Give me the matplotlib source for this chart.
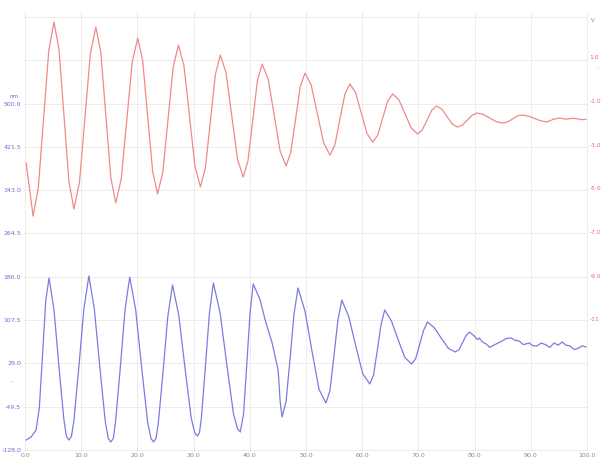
import matplotlib.pyplot as plt

# time axis (s)
x_ticks = [0, 10, 20, 30, 40, 50, 60, 70, 80, 90, 100]
x_labels = ["0.0", "10.0", "20.0", "30.0", "40.0", "50.0", "60.0", "70.0", "80.0", "90.0", "100.0"]

# left axis (displacement, nm) - blue
left_ticks = [-128.0, -49.5, 29.0, 107.5, 186.0, 264.5, 343.0, 421.5, 500.0, 578.5, 657.0]
left_labels = ["-128.0", "-49.5", "29.0", "107.5", "186.0", "264.5", "343.0", "421.5", "500.0", "", ""]

# right axis (voltage, V) - red
right_ticks = [1.0, -1.0, -3.0, -5.0, -7.0, -9.0, -11.0]
right_labels = ["1.0", "-1.0", "-3.0", "-5.0", "-7.0", "-9.0", "-11"]

# red trace (V)
red_t = [0.18, 1.42, 2.35, 3.28, 4.21, 5.14, 6.03, 6.92, 7.80, 8.69, 9.67, 10.64, 11.62,
         12.59, 13.48, 14.36, 15.25, 16.13, 17.11, 18.09, 19.06, 20.04, 20.93, 21.81, 22.70,
         23.58, 24.51, 25.44, 26.37, 27.30, 28.28, 29.26, 30.23, 31.21, 32.10, 32.98, 33.87,
         34.75, 35.77, 36.79, 37.81, 38.83, 39.67, 40.52, 41.36, 42.20, 43.26, 44.33, 45.39,
         46.45, 47.29, 48.14, 48.98, 49.82, 50.93, 52.04, 53.15, 54.26, 55.15, 56.03, 56.92,
         57.80, 58.82, 59.84, 60.86, 61.88, 62.77, 63.66, 64.54, 65.43, 66.54, 67.65, 68.75,
         69.86, 70.70, 71.55, 72.39, 73.23, 74.16, 75.09, 76.02, 76.95, 77.84, 78.73, 79.61,
         80.50, 81.61, 82.72, 83.82, 84.93, 85.82, 86.71, 87.59, 88.48, 89.59, 90.70, 91.80,
         92.91, 94.00, 95.04, 96.30, 97.70, 99.00, 99.82]
red_v = [-3.85, -6.27, -4.97, -1.83, 1.30, 2.60, 1.35, -1.68, -4.70, -5.95, -4.74, -1.79, 1.16,
         2.37, 1.20, -1.65, -4.50, -5.67, -4.57, -1.90, 0.77, 1.87, 0.83, -1.70, -4.22,
         -5.26, -4.27, -1.85, 0.56, 1.55, 0.60, -1.70, -3.99, -4.94, -4.06, -1.92, 0.21,
         1.09, 0.28, -1.70, -3.68, -4.49, -3.74, -1.90, -0.07, 0.68, 0.00, -1.65, -3.30,
         -3.98, -3.36, -1.85, -0.35, 0.27, -0.28, -1.61, -2.93, -3.48, -3.01, -1.85, -0.70,
         -0.23, -0.62, -1.56, -2.50, -2.89, -2.57, -1.79, -1.01, -0.69, -0.96, -1.61, -2.25,
         -2.52, -2.33, -1.88, -1.43, -1.24, -1.38, -1.72, -2.06, -2.20, -2.11, -1.88, -1.65,
         -1.56, -1.63, -1.79, -1.95, -2.02, -1.97, -1.84, -1.70, -1.65, -1.70, -1.81, -1.92,
         -1.97, -1.85, -1.79, -1.84, -1.80, -1.86, -1.85]

# blue trace (nm)
blue_t = [0.18, 1.06, 1.95, 2.53, 3.11, 3.68, 4.26,
          5.15, 6.03, 6.92, 7.35, 7.80, 8.25, 8.69, 9.58, 10.46, 11.35,
          12.33, 13.30, 14.28, 14.80, 15.25, 15.70, 16.09, 16.94, 17.78, 18.62,
          19.68, 20.75, 21.81, 22.40, 22.87, 23.30, 23.71, 24.56, 25.40, 26.24,
          27.35, 28.46, 29.56, 30.20, 30.67, 31.05, 31.38, 32.09, 32.80, 33.51,
          34.71, 35.91, 37.10, 37.80, 38.30, 38.88, 39.45, 40.03, 40.60,
          41.84, 42.73, 43.97, 45.04, 45.40, 45.74, 46.45, 47.16, 47.87, 48.58,
          49.82, 51.07, 52.31, 53.55, 54.26, 54.96, 55.67, 56.38,
          57.62, 58.87, 60.11, 61.35, 62.02, 62.68, 63.35, 64.01,
          65.20, 66.40, 67.60, 68.79, 69.50, 70.21, 70.92, 71.63,
          72.87, 74.12, 75.36, 76.60, 77.22, 77.84, 78.46, 79.08,
          79.96, 80.50, 80.85, 81.40, 82.09, 82.70, 83.51, 84.20, 84.93, 85.60,
          86.52, 87.20, 87.94, 88.70, 89.72, 90.40, 91.13, 91.90, 92.73, 93.40,
          94.15, 94.90, 95.57, 96.30, 96.99, 97.80, 98.58, 99.20, 99.82]
blue_v = [-109.9, -104.4, -91.7, -51.5, 46.1, 143.6, 183.8,
          125.1, 22.3, -74.7, -103.0, -109.9, -103.0, -74.2, 23.9, 128.0, 187.5,
          127.3, 21.9, -77.4, -107.0, -113.5, -107.0, -77.6, 21.1, 125.8, 185.6,
          125.8, 21.1, -77.6, -107.0, -113.5, -107.0, -79.3, 14.6, 114.2, 171.1,
          116.4, 20.6, -69.8, -97.0, -102.6, -96.0, -69.3, 22.2, 119.3, 174.8,
          120.8, 26.2, -63.0, -89.0, -95.4, -63.2, 25.4, 119.3, 173.0,
          144.0, 107.7, 66.0, 17.0, -40.0, -68.2, -40.1, 37.1, 118.9, 165.7,
          124.0, 51.0, -17.8, -42.8, -20.4, 41.2, 106.6, 143.9,
          113.5, 60.2, 10.0, -8.3, 7.8, 52.0, 99.0, 125.8,
          106.2, 72.0, 39.6, 27.9, 37.0, 62.2, 88.9, 104.1,
          93.2, 74.2, 56.2, 49.7, 54.0, 66.0, 78.9, 85.9,
          78.7, 72.0, 75.1, 68.0, 64.2, 58.0, 62.4, 66.0, 69.6, 74.0,
          75.1, 71.0, 69.6, 63.0, 66.0, 61.0, 60.6, 66.0, 62.4, 58.0,
          66.0, 62.0, 67.8, 62.0, 60.6, 54.0, 56.9, 61.0, 58.7]

fig = plt.figure(figsize=(6.04, 4.62), dpi=100)
ax = fig.add_axes([24 / 604, 10 / 462, 564 / 604, 440 / 462])
ax2 = ax.twinx()

ax.plot(blue_t, blue_v, color='#7b7be0', lw=0.9)
ax2.plot(red_t, red_v, color='#f08a8a', lw=0.9)

ax.set_xlim(-0.2, 100.2)
ax.set_ylim(-131.6, 666.0)
ax2.set_ylim(-17.06, 3.06)

ax.set_xticks(x_ticks)
ax.set_xticklabels(x_labels)
ax.set_yticks(left_ticks)
ax.set_yticklabels(left_labels)
ax2.set_yticks(right_ticks)
ax2.set_yticklabels(right_labels)

ax.tick_params(axis='x', length=0, pad=1, labelsize=4.5, labelcolor='#8a8a8a')
ax.tick_params(axis='y', length=0, pad=2, labelsize=4.5, labelcolor='#6b6bd6')
ax2.tick_params(axis='y', length=0, pad=1, labelsize=4.3, labelcolor='#e36a6a')

ax.grid(True, color='#ececec', lw=0.7)
for a in (ax, ax2):
    for s in a.spines.values():
        s.set_visible(False)

# unit labels and small series markers
fig.text(14 / 604, 1 - 96 / 462, "nm", fontsize=4, color='#6b6bd6', ha='center', va='center')
fig.text(593 / 604, 1 - 20 / 462, "V", fontsize=4, color='#e36a6a', ha='center', va='center')
fig.text(12 / 604, 1 - 382 / 462, "–", fontsize=4, color='#8a8ad8', ha='center', va='center')
fig.text(597 / 604, 1 - 68 / 462, "–", fontsize=4, color='#e8a0a0', ha='center', va='center')

plt.savefig('out.png')
